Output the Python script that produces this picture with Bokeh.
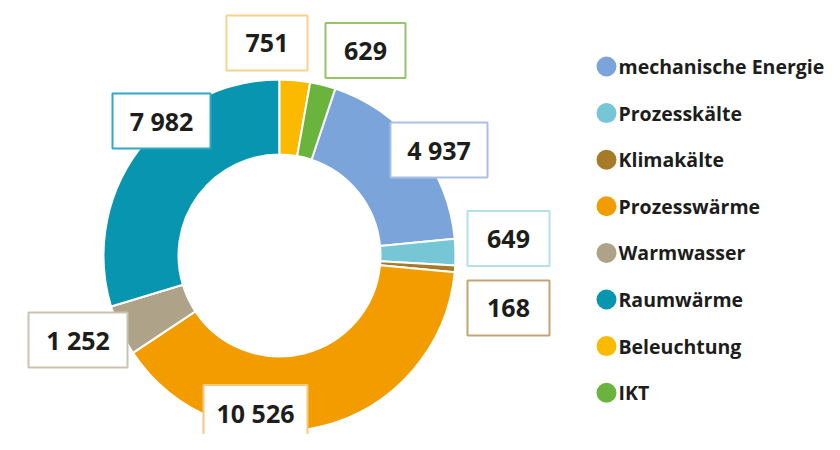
import math
from bokeh.plotting import figure
from bokeh.models import ColumnDataSource, Range1d
from bokeh.core.properties import value
from bokeh.embed import file_html
from bokeh.resources import INLINE

# ---- data ----
categories = ["mechanische Energie", "Prozesskälte", "Klimakälte", "Prozesswärme",
              "Warmwasser", "Raumwärme", "Beleuchtung", "IKT"]
values = [4937, 649, 168, 10526, 1252, 7982, 751, 629]
value_labels = ["4 937", "649", "168", "10 526", "1 252", "7 982", "751", "629"]
colors = ["#7ba4da", "#76c6d6", "#a67b28", "#f39c00", "#aea388", "#0795b0", "#fbb900", "#6ab43e"]
border_colors = ["#a9c0e4", "#b5dfe9", "#c2a572", "#f5c97f", "#c9c4b0", "#2fa8c3", "#f7d28f", "#97c36a"]

# ---- layout (screen pixels of the picture) ----
PAGE_H = 450
cx, cy = 279, 255
R_OUT, R_IN = 176, 101
box_cx = [438.5, 508, 508, 255, 77.5, 161, 266.5, 365]
box_cy = [149.5, 238, 307.5, 412, 339.5, 120.5, 42.5, 50]
box_w = [97, 82, 82, 104, 99, 98, 81, 80]
BOX_H = 55
leg_x, leg_y0, leg_dy = 606, 66, 46.6

def fy(y):
    return PAGE_H - y

total = sum(values)
# Raumwärme ends at 12 o'clock, slices run clockwise
start_cw = 2 * math.pi - 2 * math.pi * sum(values[:6]) / total
starts, ends = [], []
acc = start_cw
for v in values:
    a0 = acc
    a1 = acc + 2 * math.pi * v / total
    starts.append(math.pi / 2 - a0)
    ends.append(math.pi / 2 - a1)
    acc = a1

p = figure(width=824, height=434, x_range=Range1d(0, 824), y_range=Range1d(16, 450),
           output_backend="svg", toolbar_location=None, min_border=0,
           x_axis_location=None, y_axis_location=None)
p.grid.visible = False
p.outline_line_color = None
p.background_fill_color = "white"
p.border_fill_color = "white"

wedge_src = ColumnDataSource(dict(start=starts, end=ends, color=colors, cat=categories))
p.annular_wedge(x=cx, y=fy(cy), inner_radius=R_IN, outer_radius=R_OUT,
                start_angle="start", end_angle="end", direction="clock",
                fill_color="color", line_color="white", line_width=2, source=wedge_src)

lab_src = ColumnDataSource(dict(x=box_cx, y=[fy(v) for v in box_cy], w=box_w,
                                border=border_colors, txt=value_labels))
p.rect(x="x", y="y", width="w", height=BOX_H, fill_color="white",
       line_color="border", line_width=2, source=lab_src)
p.text(x="x", y="y", text="txt", text_align="center", text_baseline="middle",
       text_font=value("Open Sans"), text_font_style="bold", text_font_size="25px",
       text_color="#1d1d1b", source=lab_src)

leg_src = ColumnDataSource(dict(x=[leg_x] * len(categories),
                                y=[fy(leg_y0 + i * leg_dy) for i in range(len(categories))],
                                color=colors, cat=categories))
p.scatter(x="x", y="y", size=20, marker="circle", fill_color="color",
          line_color=None, source=leg_src)
p.text(x=leg_x + 12, y="y", text="cat", text_align="left", text_baseline="middle",
       text_font=value("Open Sans"), text_font_style="bold", text_font_size="19.5px",
       text_color="#1d1d1b", source=leg_src)

open("out.html", "w").write(file_html(p, INLINE))
